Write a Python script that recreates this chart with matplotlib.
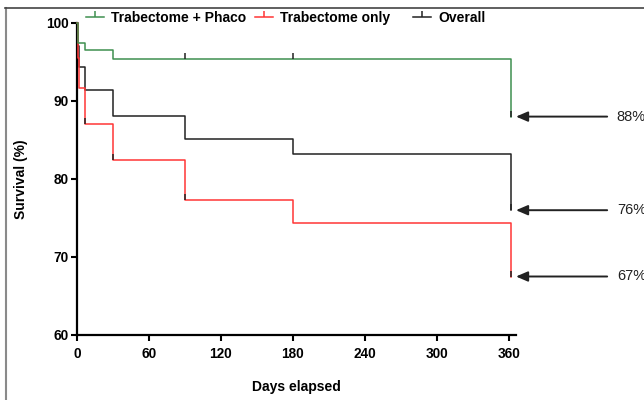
import matplotlib
matplotlib.use("Agg")
import matplotlib.pyplot as plt
from matplotlib.lines import Line2D

plt.rcParams['font.family'] = ['Liberation Sans', 'DejaVu Sans']

# ---- data ----
green_t = [0, 1, 7, 30, 362]
green_s = [100, 97.4, 96.5, 95.4, 88.0]
green_ct = [90, 180, 362]
green_cs = [95.4, 95.4, 88.0]

red_t = [0, 0.5, 1, 2, 7, 30, 90, 180, 362]
red_s = [100, 98.2, 95.5, 91.7, 87.1, 82.4, 77.3, 74.4, 67.5]
red_ct = [7, 30, 90, 362]
red_cs = [87.1, 82.4, 77.3, 67.5]

all_t = [0, 0.5, 1, 1.5, 7, 30, 90, 180, 362]
all_s = [100, 98.8, 97.0, 94.4, 91.4, 88.1, 85.1, 83.2, 76.0]
all_ct = [362]
all_cs = [76.0]

end_labels = ["88%", "76%", "67%"]
end_values = [88.0, 76.0, 67.5]

xticks = [0, 60, 120, 180, 240, 300, 360]
yticks = [60, 70, 80, 90, 100]

GREEN = "#3f8f4f"
RED = "#ff3535"
BLACK = "#222222"
tick_marker = [(0, 0), (0, 1)]

fig = plt.figure(figsize=(6.44, 4.0), dpi=100)
ax = fig.add_axes([77/644, 1-335/400, (516-77)/644, (335-23)/400])

series = [
    (all_t, all_s, all_ct, all_cs, BLACK, "Overall"),
    (red_t, red_s, red_ct, red_cs, RED, "Trabectome only"),
    (green_t, green_s, green_ct, green_cs, GREEN, "Trabectome + Phaco"),
]
for t, s, ct, cs, c, lab in series:
    ax.step(t, s, where="post", color=c, lw=1.1, clip_on=False, zorder=3)
    ax.plot(ct, cs, ls="none", marker=tick_marker, ms=9, mew=1.1,
            mec="#222222", clip_on=False, zorder=4)

ax.set_xlim(0, 366)
ax.set_ylim(60, 100)
ax.set_xticks(xticks)
ax.set_yticks(yticks)
for sp in ["top", "right"]:
    ax.spines[sp].set_visible(False)
for sp in ["left", "bottom"]:
    ax.spines[sp].set_linewidth(1.6)
ax.tick_params(length=4, width=1.5, labelsize=9.8)
ax.tick_params(axis="x", pad=5)
ax.tick_params(axis="y", pad=2)
for lbl in ax.get_xticklabels() + ax.get_yticklabels():
    lbl.set_fontweight("bold")
ax.set_xlabel("Days elapsed", fontsize=10, fontweight="bold", labelpad=13)
ax.set_ylabel("Survival (%)", fontsize=10, fontweight="bold", labelpad=13)

# end arrows
for lab, v in zip(end_labels, end_values):
    ax.annotate("", xy=(366, v), xytext=(442, v), xycoords="data",
                arrowprops=dict(arrowstyle="-|>,head_length=0.7,head_width=0.3",
                                color=BLACK, lw=1.4, shrinkA=0, shrinkB=0),
                annotation_clip=False)
    ax.text(450, v, lab, fontsize=10.5, va="center", ha="left", color=BLACK,
            clip_on=False)

# legends
leg_items = [("Trabectome + Phaco", GREEN, 86), ("Trabectome only", RED, 255), ("Overall", BLACK, 413)]
for lab, c, px in leg_items:
    h = Line2D([], [], color=c, lw=1.1, marker=tick_marker, ms=9, mew=1.1, mec=c)
    lg = fig.legend(handles=[h], labels=[lab], loc="center left",
                    bbox_to_anchor=(px/644, 1-18/400), frameon=False,
                    handlelength=1.3, handletextpad=0.5, borderaxespad=0,
                    borderpad=0, prop=dict(weight="bold", size=10))

# figure border lines
fig.add_artist(Line2D([5.5/644, 5.5/644], [0, 1-7.5/400], color="#8a8a8a", lw=1.5,
                      transform=fig.transFigure))
fig.add_artist(Line2D([5/644, 1], [1-7.5/400, 1-7.5/400], color="#444444", lw=1.2,
                      transform=fig.transFigure))

fig.savefig("out.png", dpi=100)
